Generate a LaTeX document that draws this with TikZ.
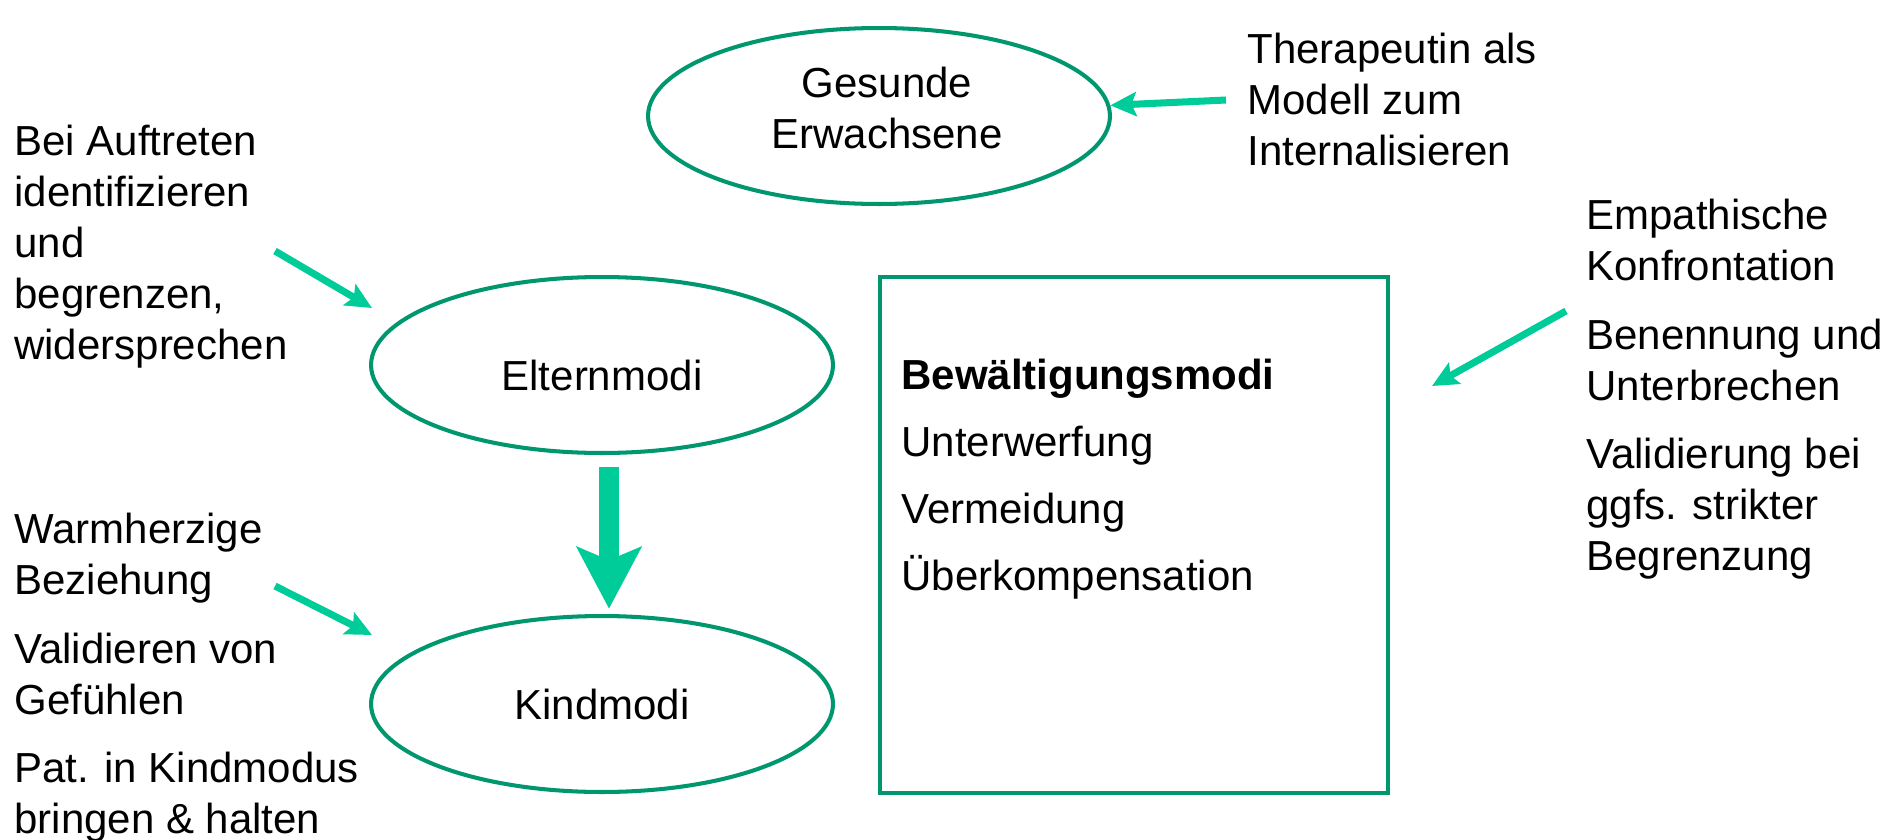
\documentclass[tikz,border=0pt]{standalone}
\usepackage{fontspec}
\setmainfont{Liberation Sans}
\usetikzlibrary{arrows.meta,shapes.geometric}
\definecolor{modusgreen}{RGB}{0,150,110}
\definecolor{pfeilgreen}{RGB}{0,204,153}
\tikzset{
	modus/.style={ellipse, draw=modusgreen, line width=2.3pt, minimum width=9.24cm, minimum height=3.52cm, inner sep=0pt, align=center},
	txt/.style={anchor=north west, align=left, inner sep=0pt},
	thinarrow/.style={draw=pfeilgreen, line width=4pt, -{Stealth[length=14.8pt,width=13.7pt,inset=2.8pt]}},
	bigarrow/.style={draw=pfeilgreen, line width=11.9pt, -{Stealth[length=35pt,width=36.4pt,inset=7.4pt]}}
}
\begin{document}
\begin{tikzpicture}[x=0.02cm,y=-0.02cm,font=\fontsize{23.9}{29}\selectfont]
		\useasboundingbox (0,0) rectangle (1894,839);
		% die drei Modi
		\node[modus, text depth=9pt] (gesund) at (879,116) {\hspace*{9pt}Gesunde\\\hspace*{9pt}Erwachsene};
		\node[modus, text height=29pt] (eltern) at (602,365) {Elternmodi};
		\node[modus] (kind) at (602,704) {Kindmodi};
		\node[draw=modusgreen, line width=2.3pt, minimum width=10.16cm, minimum height=10.32cm, inner sep=0pt] (coping) at (1134,535) {};
		\node[txt] (copingtext) at (901,359) {\textbf{Bewältigungsmodi}\\[9pt]Unterwerfung\\[9pt]Vermeidung\\[9pt]Überkompensation};
		% Interventionen
		\node[txt] (leftA) at (14,125) {Bei Auftreten\\identifizieren\\und\\begrenzen,\\widersprechen};
		\node[txt] (leftB) at (14,513) {Warmherzige\\Beziehung\\[10pt]Validieren von\\Gefühlen\\[10pt]Pat. in Kindmodus\\bringen \& halten};
		\node[txt] (therapeut) at (1247,33) {Therapeutin als\\Modell zum\\Internalisieren};
		\node[txt] (rightA) at (1586,199) {Empathische\\Konfrontation\\[10pt]Benennung und\\Unterbrechen\\[10pt]Validierung bei\\ggfs. strikter\\Begrenzung};
		\coordinate (tailA) at (275,251);
		\coordinate (tipA) at (372,308);
		\coordinate (tailB) at (275,586);
		\coordinate (tipB) at (372,635);
		\coordinate (tailC) at (1226,100);
		\coordinate (tailD) at (1566,311);
		\coordinate (tipD) at (1432,386);
		\draw[thinarrow] (tailA) -- (tipA);
		\draw[thinarrow] (tailB) -- (tipB);
		\draw[thinarrow] (tailC) -- (gesund);
		\draw[thinarrow] (tailD) -- (tipD);
		\draw[bigarrow] ([xshift=4pt,yshift=-7pt]eltern.south) -- ([xshift=4pt,yshift=3pt]kind.north);
	\end{tikzpicture}
\end{document}
